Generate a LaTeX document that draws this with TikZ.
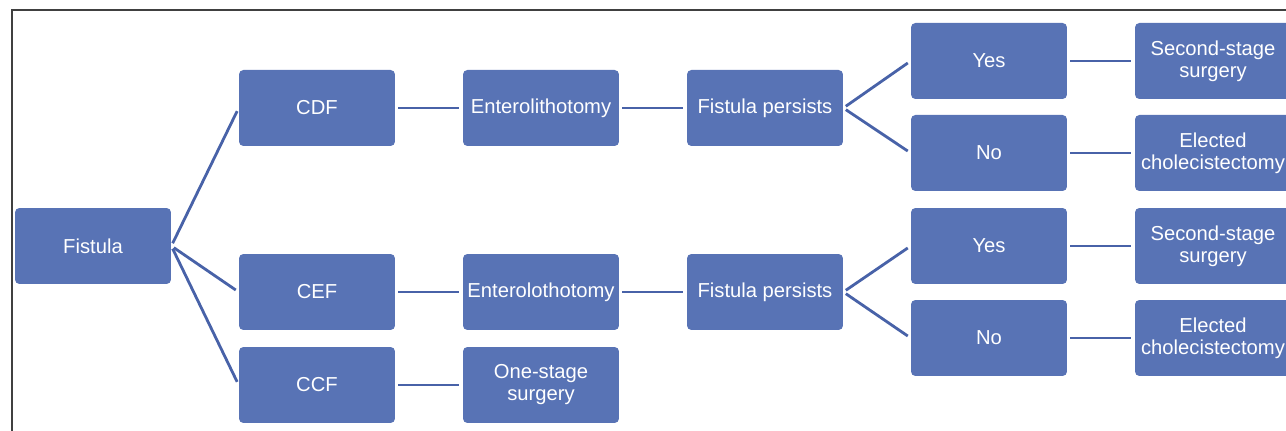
\documentclass[tikz,border=0pt]{standalone}
\usepackage{fontspec}
\setmainfont{Liberation Sans}
\definecolor{boxblue}{RGB}{88,115,181}
\definecolor{lineblue}{RGB}{72,98,168}
\tikzset{
  stepbox/.style={rectangle, rounded corners=2.5pt, fill=boxblue, text=white,
    minimum width=3.12cm, minimum height=1.52cm, inner sep=1pt, align=center,
    font=\fontsize{11.5}{12.5}\selectfont},
  link/.style={lineblue, line width=1.6pt, shorten <=0.06cm, shorten >=0.07cm}
}
\begin{document}
\begin{tikzpicture}[x=0.02cm, y=-0.02cm]
\useasboundingbox (0,0) rectangle (1286,431);
\draw[line width=1.1pt, black!75] (12,431) -- (12,10) -- (1290,10);
\node[stepbox] (fistula) at (93,246) {Fistula};
\node[stepbox] (cdf) at (317,108) {CDF};
\node[stepbox] (cef) at (317,292) {CEF};
\node[stepbox] (ccf) at (317,385) {CCF};
\node[stepbox] (lith1) at (541,108) {Enterolithotomy};
\node[stepbox] (lith2) at (541,292) {Enterolothotomy};
\node[stepbox] (onestage) at (541,385) {One-stage\\surgery};
\node[stepbox] (pers1) at (765,108) {Fistula persists};
\node[stepbox] (pers2) at (765,292) {Fistula persists};
\node[stepbox] (yes1) at (989,61) {Yes};
\node[stepbox] (no1) at (989,153) {No};
\node[stepbox] (yes2) at (989,246) {Yes};
\node[stepbox] (no2) at (989,338) {No};
\node[stepbox] (second1) at (1213,61) {Second-stage\\surgery};
\node[stepbox] (elected1) at (1213,153) {Elected\\cholecistectomy};
\node[stepbox] (second2) at (1213,246) {Second-stage\\surgery};
\node[stepbox] (elected2) at (1213,338) {Elected\\cholecistectomy};
\draw[link] (fistula.east) -- (cdf.west);
\draw[link] (fistula.east) -- (cef.west);
\draw[link] (fistula.east) -- (ccf.west);
\draw[link] (cdf) -- (lith1);
\draw[link] (lith1) -- (pers1);
\draw[link] (cef) -- (lith2);
\draw[link] (lith2) -- (pers2);
\draw[link] (ccf) -- (onestage);
\draw[link] (pers1.east) -- (yes1.west);
\draw[link] (pers1.east) -- (no1.west);
\draw[link] (pers2.east) -- (yes2.west);
\draw[link] (pers2.east) -- (no2.west);
\draw[link] (yes1) -- (second1);
\draw[link] (no1) -- (elected1);
\draw[link] (yes2) -- (second2);
\draw[link] (no2) -- (elected2);
\end{tikzpicture}
\end{document}
